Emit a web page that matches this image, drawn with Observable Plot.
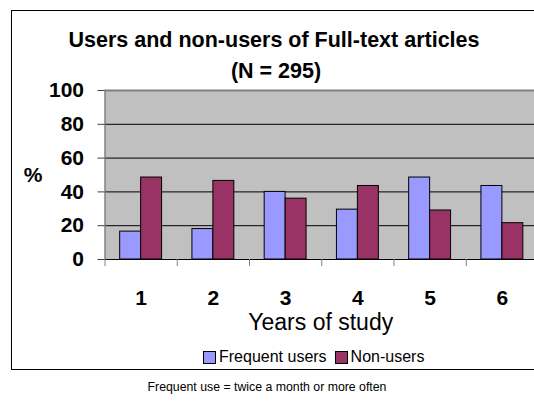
<!DOCTYPE html>
<html><head><meta charset="utf-8">
<script src="https://cdn.jsdelivr.net/npm/d3@7"></script>
<script src="https://cdn.jsdelivr.net/npm/@observablehq/plot@0.6"></script>
<style>
html,body{margin:0;padding:0;background:#fff;overflow:hidden;width:534px;height:401px;}
body{position:relative;font-family:"Liberation Sans",Arial,sans-serif;color:#000;}
#chart{position:absolute;left:0;top:0;}
.frame{position:absolute;left:11px;top:10px;width:600px;height:360px;border:1.5px solid #000;box-sizing:border-box;pointer-events:none;}
.t{position:absolute;white-space:nowrap;line-height:1;}
.title{font-weight:bold;font-size:21.5px;transform:translateX(-50%);}
.legend{position:absolute;left:203px;top:348px;font-size:16px;display:flex;align-items:center;white-space:nowrap;}
.sw{display:inline-block;width:11px;height:11px;border:1px solid #000;margin-right:3px;}
.caption{font-size:12.3px;transform:translateX(-50%);}
</style>
</head><body>
<div id="chart"></div>
<div class="frame"></div>
<div class="t title" id="t1" style="left:274px;top:30px;"></div>
<div class="t title" id="t2" style="left:276px;top:61px;"></div>
<div class="legend" id="legend"></div>
<div class="t caption" id="cap" style="left:267px;top:381px;"></div>
<script>
const titleLines = ["Users and non-users of Full-text articles", "(N = 295)"];
const caption = "Frequent use = twice a month or more often";
const years = [1, 2, 3, 4, 5, 6];
const series = ["Frequent users", "Non-users"];
const frequentUsers = [16.5, 18, 40, 29.5, 48.5, 43.5];
const nonUsers = [48.5, 46.5, 36, 43.5, 29, 21.5];
const seriesColors = ["#9999FF", "#993366"];
const yTicks = [0, 20, 40, 60, 80, 100];
const yLabel = "%";
const xLabel = "Years of study";

const rows = [];
years.forEach((yr, i) => {
  rows.push({year: yr, series: series[0], value: frequentUsers[i]});
  rows.push({year: yr, series: series[1], value: nonUsers[i]});
});
const bounds = [0.5, ...years.map(y => y + 0.5)];
const half = 0.29;

document.getElementById("t1").textContent = titleLines[0];
document.getElementById("t2").textContent = titleLines[1];
document.getElementById("cap").textContent = caption;
const lg = document.getElementById("legend");
series.forEach((s, i) => {
  const sw = document.createElement("span");
  sw.className = "sw"; sw.style.background = seriesColors[i];
  if (i > 0) sw.style.marginLeft = "8px";
  const tx = document.createElement("span"); tx.textContent = s;
  lg.appendChild(sw); lg.appendChild(tx);
});

const chart = Plot.plot({
  width: 534,
  height: 401,
  marginLeft: 104.5,
  marginRight: -4,
  marginTop: 90,
  marginBottom: 142,
  style: {fontFamily: "'Liberation Sans', Arial, sans-serif", fontSize: "21px", fontWeight: "bold", background: "transparent", overflow: "visible"},
  x: {type: "linear", domain: [0.5, 6.5]},
  y: {domain: [0, 100]},
  color: {domain: series, range: seriesColors},
  marks: [
    Plot.frame({fill: "#c0c0c0", stroke: null}),
    Plot.ruleY(yTicks.slice(0, -1), {stroke: "#000", strokeWidth: 1}),
    Plot.ruleY([100], {stroke: "#808080", strokeWidth: 2}),
    Plot.rectY(rows, {
      x1: d => d.series === series[0] ? d.year - half : d.year,
      x2: d => d.series === series[0] ? d.year : d.year + half,
      y: "value", fill: "series", stroke: "#000", strokeWidth: 1
    }),
    Plot.ruleX([0.5], {y1: 0, y2: 100, stroke: "#808080", strokeWidth: 1.5}),
    Plot.axisY(yTicks, {tickSize: 7, tickPadding: 14, stroke: "#404040", fill: "#000", label: null}),
    Plot.axisX(bounds, {tickSize: 7, tickFormat: () => "", stroke: "#808080", label: null}),
    Plot.axisX(years, {tickSize: 0, tickPadding: 31, fill: "#000", label: null}),
    Plot.text([yLabel], {frameAnchor: "left", dx: -72, text: d => d, fontSize: 21, fontWeight: "bold", fill: "#000", textAnchor: "middle"}),
    Plot.text([xLabel], {frameAnchor: "bottom", dy: 70, dx: -1, text: d => d, fontSize: 23, fontWeight: "normal", fill: "#000"})
  ]
});
document.getElementById("chart").appendChild(chart);
</script>
</body></html>
